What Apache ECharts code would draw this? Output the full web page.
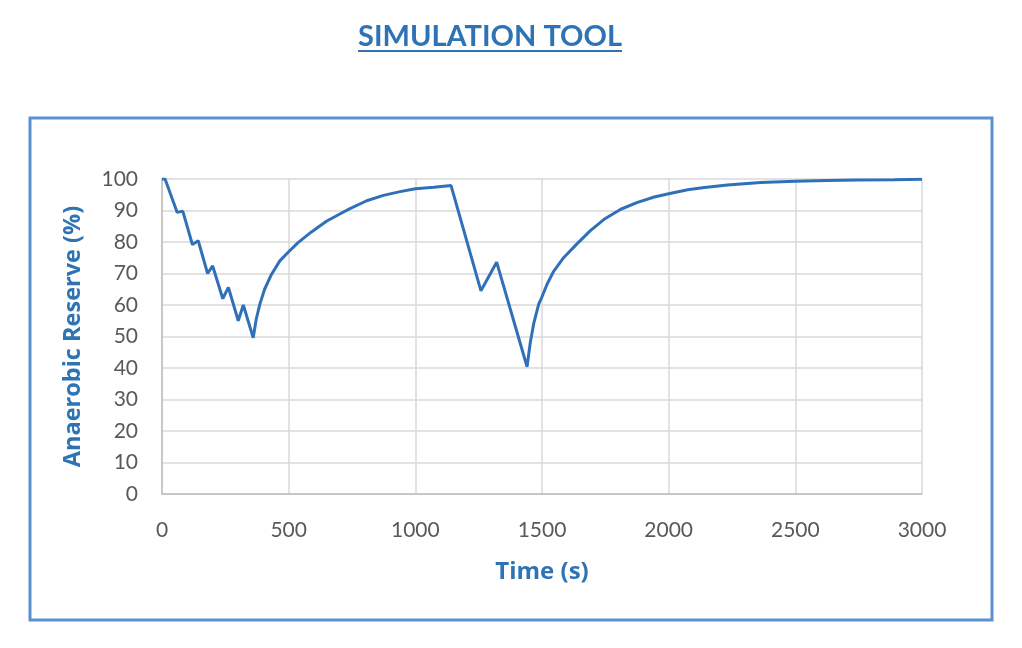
<!DOCTYPE html>
<html>
<head>
<meta charset="utf-8">
<title>Simulation Tool</title>
<script src="https://cdn.jsdelivr.net/npm/echarts@6/dist/echarts.min.js"></script>
<style>
    html, body { margin: 0; padding: 0; background: #fff; }
    #chart { width: 1022px; height: 648px; }
</style>
</head>
<body>
<div id="chart"></div>
<script>
// time (s) and anaerobic reserve (%)
var times = [0, 12, 60, 82, 120, 143, 180, 200, 240, 262, 301, 321, 360,
    372, 386, 405, 432, 465, 500, 537, 590, 649, 700, 742, 808, 874, 940, 1000, 1073, 1141,
    1259, 1321, 1441,
    1454, 1467, 1487, 1500, 1520, 1546, 1586, 1638, 1691, 1745, 1811, 1877, 1943, 2000,
    2075, 2141, 2232, 2363, 2500, 2624, 2750, 2891, 3000];
var reserve = [100, 100, 89.4, 89.8, 79.2, 80.4, 70, 72.4, 62, 65.6, 55, 60, 49.6,
    55.5, 60.2, 65, 69.7, 74, 76.9, 79.8, 83.2, 86.6, 88.8, 90.6, 93.1, 94.8, 96, 96.9, 97.4, 97.9,
    64.5, 73.6, 40.4,
    48.2, 54, 60.3, 62.6, 66.6, 70.7, 75.1, 79.4, 83.6, 87.2, 90.4, 92.6, 94.3, 95.3,
    96.6, 97.3, 98.1, 98.9, 99.3, 99.5, 99.7, 99.8, 99.9];

var chartTitle = 'SIMULATION TOOL';
var xName = 'Time (s)';
var yName = 'Anaerobic Reserve (%)';

var points = times.map(function (t, i) { return [t, reserve[i]]; });

var chart = echarts.init(document.getElementById('chart'));

var option = {
    animation: false,
    graphic: [
        {
            type: 'text',
            x: 490,
            y: 37,
            style: {
                text: chartTitle,
                fill: '#2E74B5',
                font: 'bold 29px Lato',
                textAlign: 'center',
                textVerticalAlign: 'middle'
            }
        },
        {
            // underline below the title
            type: 'line',
            shape: { x1: 358, y1: 51, x2: 622, y2: 51 },
            style: { stroke: '#2E74B5', lineWidth: 2 }
        },
        {
            // frame around the chart
            type: 'rect',
            shape: { x: 30, y: 118, width: 962, height: 502 },
            style: { fill: 'none', stroke: '#5B8FD0', lineWidth: 3 }
        }
    ],
    grid: {
        left: 162,
        right: 100,
        top: 179,
        bottom: 154
    },
    xAxis: {
        type: 'value',
        min: 0,
        max: 3000,
        interval: 500,
        name: xName,
        nameLocation: 'middle',
        nameGap: 66,
        nameTextStyle: {
            color: '#2E74B5',
            fontFamily: 'Open Sans',
            fontWeight: 'bold',
            fontSize: 24
        },
        axisLine: { lineStyle: { color: '#BFBFBF', width: 1.5 } },
        axisTick: { show: false },
        axisLabel: {
            color: '#595959',
            fontFamily: 'Lato',
            fontSize: 21,
            margin: 26,
            formatter: function (v) { return String(v); }
        },
        splitLine: { lineStyle: { color: '#D9D9D9', width: 1.5 } }
    },
    yAxis: {
        type: 'value',
        min: 0,
        max: 100,
        interval: 10,
        name: yName,
        nameLocation: 'middle',
        nameGap: 77,
        nameTextStyle: {
            color: '#2E74B5',
            fontFamily: 'Open Sans',
            fontWeight: 'bold',
            fontSize: 23.5
        },
        axisLine: { show: true, lineStyle: { color: '#BFBFBF', width: 1.5 } },
        axisTick: { show: false },
        axisLabel: { color: '#595959', fontFamily: 'Lato', fontSize: 21, margin: 24 },
        splitLine: { lineStyle: { color: '#D9D9D9', width: 1.5 } }
    },
    series: [
        {
            type: 'line',
            data: points,
            showSymbol: false,
            symbol: 'none',
            lineStyle: { color: '#3070B8', width: 3 }
        }
    ]
};

chart.setOption(option);
</script>
</body>
</html>
